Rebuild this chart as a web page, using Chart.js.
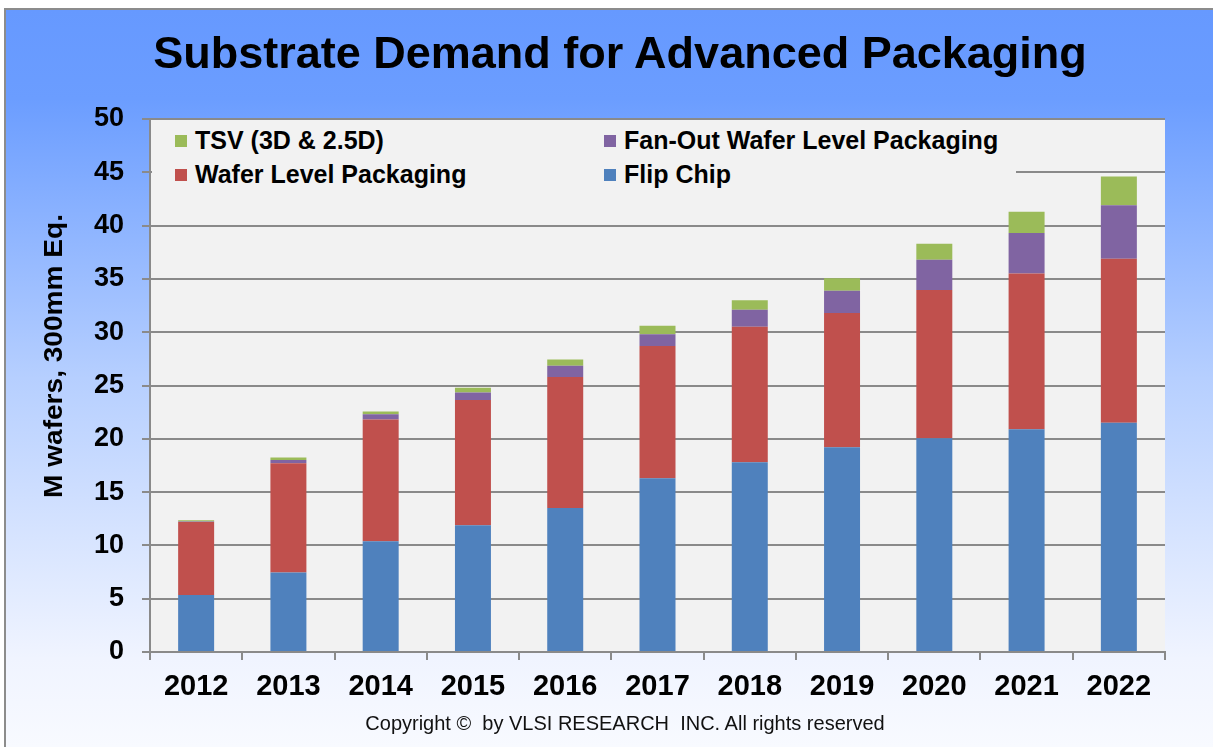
<!DOCTYPE html>
<html>
<head>
<meta charset="utf-8">
<title>Substrate Demand for Advanced Packaging</title>
<script src="https://cdn.jsdelivr.net/npm/chart.js@4.4.1/dist/chart.umd.min.js"></script>
<style>
  html, body { margin: 0; padding: 0; background: #fff; }
  #frame {
    position: relative; width: 1213px; height: 747px; overflow: hidden;
    background: #fff; font-family: "Liberation Sans", Arial, sans-serif; color: #000;
  }
  #panel {
    position: absolute; left: 4px; top: 8px; right: 0; bottom: 0;
    border-left: 2px solid #8c8c8c; border-top: 2px solid #8c8c8c;
    background: linear-gradient(to bottom, #6699ff 0%, #6b9dff 12%, #b6cfff 50%, #f0f4ff 88%, #f8faff 100%);
  }
  #chart { position: absolute; left: 0; top: 0; }
  #title {
    position: absolute; left: 0; top: 30px; width: 1240px; text-align: center;
    font-weight: bold; font-size: 45px; line-height: 45px;
  }
  #ytitle {
    position: absolute; left: -147px; top: 343px; width: 400px; height: 26px;
    text-align: center; font-weight: bold; font-size: 26px; line-height: 26px;
    transform: rotate(-90deg) scaleX(1.08); transform-origin: 50% 50%; white-space: nowrap;
  }
  #legend {
    position: absolute; left: 152px; top: 121px; width: 864px; height: 80px;
    background: #f2f2f2;
  }
  .item {
    position: absolute; height: 25px; font-weight: bold; font-size: 25px; line-height: 25px;
    white-space: nowrap; display: flex; align-items: center;
  }
  .sw { width: 12px; height: 12px; margin-right: 8px; flex: none; }
  #copy {
    position: absolute; left: 0; top: 713px; width: 1250px; text-align: center;
    font-size: 20px; line-height: 20px; color: #111; white-space: pre;
  }
</style>
</head>
<body>
<div id="frame">
  <div id="panel"></div>
  <canvas id="chart" width="1213" height="747"></canvas>
  <div id="legend"></div>
  <div id="title">Substrate Demand for Advanced Packaging</div>
  <div id="ytitle">M wafers, 300mm Eq.</div>
  <div id="copy">Copyright ©  by VLSI RESEARCH  INC. All rights reserved</div>
</div>
<script>
// Years on the category axis
const years = ['2012', '2013', '2014', '2015', '2016', '2017', '2018', '2019', '2020', '2021', '2022'];

// Demand per packaging type, M wafers (300mm equivalent); stacked bottom to top
const flipChip   = [5.35, 7.45, 10.4, 11.9, 13.5, 16.3, 17.8, 19.2, 20.05, 20.9, 21.5];
const waferLevel = [6.85, 10.25, 11.4, 11.75, 12.3, 12.4, 12.7, 12.6, 13.9, 14.6, 15.4];
const fanOut     = [0.05, 0.3, 0.5, 0.7, 1.05, 1.1, 1.6, 2.1, 2.85, 3.8, 5.0];
const tsv        = [0.1, 0.25, 0.25, 0.45, 0.6, 0.8, 0.9, 1.15, 1.5, 2.0, 2.7];

// Value axis range
const yMin = 0;
const yMax = 50;
const yStep = 5;

const FONT = '"Liberation Sans", Arial, sans-serif';
const GRID = '#8a8a8a';

// Light grey fill behind the plot area
const plotBackground = {
  id: 'plotBackground',
  beforeDraw(chart) {
    const { ctx, chartArea: a } = chart;
    ctx.save();
    ctx.fillStyle = '#f2f2f2';
    ctx.fillRect(a.left, a.top, a.right - a.left, a.bottom - a.top);
    ctx.restore();
  }
};

const chart = new Chart(document.getElementById('chart'), {
  type: 'bar',
  data: {
    labels: years,
    datasets: [
      { label: 'Flip Chip', data: flipChip, backgroundColor: '#4f81bd' },
      { label: 'Wafer Level Packaging', data: waferLevel, backgroundColor: '#c0504d' },
      { label: 'Fan-Out Wafer Level Packaging', data: fanOut, backgroundColor: '#8064a2' },
      { label: 'TSV (3D & 2.5D)', data: tsv, backgroundColor: '#9bbb59' }
    ]
  },
  options: {
    responsive: false,
    devicePixelRatio: 1,
    animation: false,
    layout: { padding: { left: 0, top: 119, right: 48, bottom: 0 } },
    datasets: { bar: { barPercentage: 0.39, categoryPercentage: 1.0, borderWidth: 0 } },
    plugins: { legend: { display: false }, title: { display: false }, tooltip: { enabled: false } },
    scales: {
      x: {
        stacked: true,
        offset: true,
        afterFit(s) { s.height = 95; },
        ticks: { color: '#000', font: { family: FONT, size: 29, weight: 'bold' }, padding: 10, maxRotation: 0, autoSkip: false },
        grid: { offset: true, drawOnChartArea: false, color: GRID, lineWidth: 2, tickLength: 8 },
        border: { color: GRID, width: 2 }
      },
      y: {
        stacked: true,
        min: yMin,
        max: yMax,
        afterFit(s) { s.width = 150; },
        ticks: { stepSize: yStep, color: '#000', font: { family: FONT, size: 27, weight: 'bold' }, padding: 18 },
        grid: { color: GRID, lineWidth: 2, tickLength: 8 },
        border: { color: GRID, width: 2 }
      }
    }
  },
  plugins: [plotBackground]
});

// Two-column legend inside the plot, built from the chart's datasets (top series first)
(function buildLegend() {
  const box = document.getElementById('legend');
  const order = chart.data.datasets.slice().reverse();
  const colX = [23, 452];
  const rowY = [7, 41];
  order.forEach((ds, i) => {
    const item = document.createElement('div');
    item.className = 'item';
    item.style.left = colX[i % 2] + 'px';
    item.style.top = rowY[Math.floor(i / 2)] + 'px';
    const sw = document.createElement('span');
    sw.className = 'sw';
    sw.style.background = ds.backgroundColor;
    const tx = document.createElement('span');
    tx.textContent = ds.label;
    item.appendChild(sw);
    item.appendChild(tx);
    box.appendChild(item);
  });
})();
</script>
</body>
</html>
